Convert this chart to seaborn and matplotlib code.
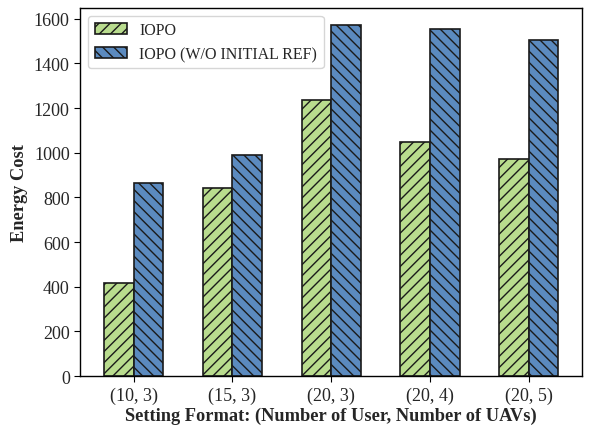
import matplotlib
matplotlib.use("Agg")
import matplotlib.pyplot as plt
import seaborn as sns
import pandas as pd

settings = ["(10, 3)", "(15, 3)", "(20, 3)", "(20, 4)", "(20, 5)"]
iopo = [415, 840, 1234, 1047, 972]
iopo_no_ref = [863, 988, 1570, 1556, 1503]
methods = ["IOPO", "IOPO (W/O INITIAL REF)"]

df = pd.DataFrame({
    "setting": settings * 2,
    "cost": iopo + iopo_no_ref,
    "method": [methods[0]] * len(settings) + [methods[1]] * len(settings),
})

sns.set_theme(style="ticks")
plt.rcParams["font.family"] = ["Liberation Serif", "DejaVu Serif"]
plt.rcParams["hatch.linewidth"] = 1.0

colors = ["#b9dc8e", "#5b8abf"]
hatches = ["///", "\\\\\\"]

fig, ax = plt.subplots(figsize=(5.94, 4.27), dpi=100)
sns.barplot(data=df, x="setting", y="cost", hue="method", palette=colors,
            saturation=1, width=0.6, edgecolor="#1a1a1a", linewidth=1.2,
            ax=ax, errorbar=None)

for container, h in zip(ax.containers, hatches):
    for bar in container:
        bar.set_hatch(h)

handles, labels = ax.get_legend_handles_labels()
for hd, h in zip(handles, hatches):
    hd.set_hatch(h)
ax.legend(handles, labels, loc="upper left", fontsize=11.5, frameon=True,
          fancybox=True, framealpha=0.8, edgecolor="#cccccc")

ax.set_xlim(-0.54, 4.54)
ax.set_ylim(0, 1650)
ax.set_yticks(range(0, 1601, 200))
ax.set_xlabel("Setting Format: (Number of User, Number of UAVs)", fontsize=13.2, fontweight="bold", labelpad=2)
ax.set_ylabel("Energy Cost", fontsize=13.2, fontweight="bold")
ax.tick_params(axis="both", labelsize=13, length=4, width=0.8, color="black")
for s in ax.spines.values():
    s.set_visible(True)
    s.set_color("black")
    s.set_linewidth(1.0)

fig.subplots_adjust(left=0.135, right=0.98, top=0.98, bottom=0.117)
fig.savefig("out.png", dpi=100)
